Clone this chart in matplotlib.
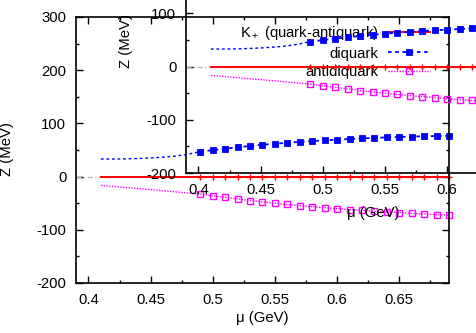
import matplotlib
matplotlib.use('Agg')
import matplotlib.pyplot as plt
from matplotlib.lines import Line2D
from matplotlib.ticker import MultipleLocator, FormatStrFormatter

plt.rcParams['font.family'] = ['Liberation Sans', 'DejaVu Sans']
plt.rcParams['mathtext.fontset'] = 'custom'
plt.rcParams['mathtext.rm'] = 'Liberation Sans'
plt.rcParams['mathtext.it'] = 'Liberation Sans:italic'
plt.rcParams['mathtext.bf'] = 'Liberation Sans:bold'
plt.rcParams['axes.unicode_minus'] = False

# ---- data ----
mu_zero = [0.39, 0.41]
z_zero = [0, 0]

mu_curve = [0.41, 0.42, 0.43, 0.44, 0.45, 0.46, 0.47, 0.48, 0.49]
kp_curve = [0, 0, 0, 0, 0, 0, 0, 0, 0]
diq_curve = [33, 33, 33.3, 34, 35, 36.5, 38.5, 42, 47]
anti_curve = [-16.5, -18.5, -20.5, -22.5, -24.5, -26.5, -28.7, -30.8, -33]

mu_pts = [0.49, 0.50, 0.51, 0.52, 0.53, 0.54, 0.55, 0.56, 0.57, 0.58, 0.59,
          0.60, 0.61, 0.62, 0.63, 0.64, 0.65, 0.66, 0.67, 0.68, 0.69]
kp_pts = [0] * 21
diq_pts = [47, 49.8, 52.5, 55.2, 57.6, 59.8, 61.8, 63.6, 65.3, 66.8, 68.2,
           69.5, 70.7, 71.8, 72.8, 73.7, 74.5, 75.2, 75.8, 76.2, 76.6]
anti_pts = [-33, -36, -39, -42, -45, -47.6, -50, -52.4, -54.6, -56.6, -58.5,
            -60.3, -62, -63.6, -65.1, -66.5, -67.8, -69.1, -70.3, -71.5, -72.7]

labels = ['K$_+$ (quark-antiquark)', 'diquark', 'antidiquark']
xlabel = 'μ (GeV)'
ylabel = 'Z (MeV)'

RED = '#ff0000'
BLUE = '#0000ff'
MAG = '#ff00ff'
FS = 10.7

W, H = 477, 333
fig = plt.figure(figsize=(W / 100, H / 100), dpi=100)


def draw(ax):
    ax.set_facecolor('none')
    ax.plot(mu_zero, z_zero, color='#b4b4b4', lw=0.9, ls=(0, (4, 2, 1, 2)))
    ax.plot(mu_curve, kp_curve, color=RED, lw=1.4)
    ax.plot(mu_curve, diq_curve, color=BLUE, lw=1.0, ls=(0, (2, 2)))
    ax.plot(mu_curve, anti_curve, color=MAG, lw=1.0, ls=(0, (1, 1)))
    ax.plot(mu_pts, kp_pts, color=RED, lw=1.4, marker='+', ms=5, mew=1.0,
            clip_on=False)
    ax.plot(mu_pts, diq_pts, color=BLUE, lw=1.3, ls=(0, (2, 2)), marker='s',
            ms=3.8, mew=0.6, clip_on=False)
    ax.plot(mu_pts, anti_pts, color=MAG, lw=1.0, ls=(0, (1, 1)), marker='s',
            ms=4.4, mfc='none', mew=1.0, clip_on=False)
    ax.set_xlim(0.39, 0.69)
    ax.set_ylim(-200, 300)
    ax.xaxis.set_major_locator(MultipleLocator(0.05))
    ax.xaxis.set_minor_locator(MultipleLocator(0.025))
    ax.yaxis.set_major_locator(MultipleLocator(100))
    ax.yaxis.set_minor_locator(MultipleLocator(50))
    ax.xaxis.set_major_formatter(FormatStrFormatter('%g'))
    ax.tick_params(which='both', direction='in', top=True, right=True,
                   labelsize=FS, width=1.0)
    ax.tick_params(which='major', length=5, pad=7)
    ax.tick_params(which='minor', length=2.5)
    for s in ax.spines.values():
        s.set_linewidth(1.2)
    ax.set_xlabel(xlabel, fontsize=FS)
    ax.set_ylabel(ylabel, fontsize=FS)


ax = fig.add_axes([76 / W, (H - 283) / H, 373 / W, 266 / H])
draw(ax)
ax.yaxis.set_label_coords((14 - 76) / 373, (283 - 149) / 266)
ax.xaxis.set_label_coords(0.5, (283 - 311) / 266)

handles = [
    Line2D([], [], color=RED, lw=1.4),
    Line2D([], [], color=BLUE, lw=1.3, ls=(0, (2, 2)), marker='s', ms=3.8,
           mew=0.6),
    Line2D([], [], color=MAG, lw=1.0, ls=(0, (1, 1)), marker='s', ms=4.4,
           mfc='none', mew=1.0),
]
ax.legend(handles, labels, loc='upper right',
          bbox_to_anchor=((430 - 76) / 373, (283 - 24) / 266),
          markerfirst=False, frameon=False, fontsize=FS, handlelength=2.8,
          handletextpad=0.67, labelspacing=0.31, borderpad=0, borderaxespad=0,
          numpoints=1)

ax2 = fig.add_axes([186 / W, (H - 173) / H, 373 / W, 266 / H])
draw(ax2)
ax2.yaxis.set_label_coords((133 - 186) / 373, (173 - 41) / 266)
ax2.xaxis.set_label_coords((373 - 186) / 373, (173 - 206) / 266)

fig.savefig('out.png', dpi=100)
